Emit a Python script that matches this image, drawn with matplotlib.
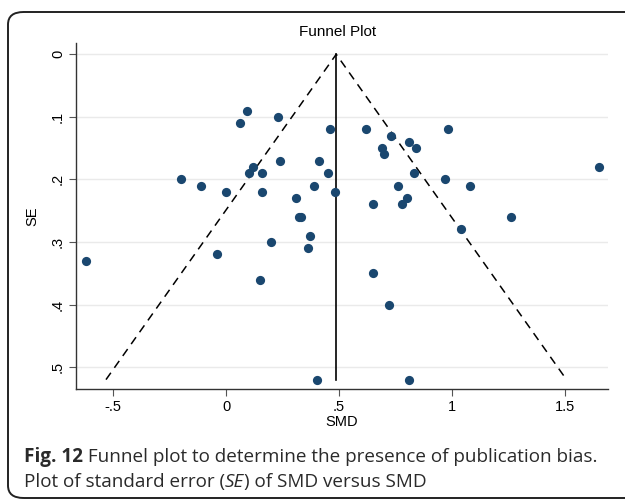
import numpy as np
import matplotlib
matplotlib.use("Agg")
import matplotlib.pyplot as plt
from matplotlib.patches import FancyBboxPatch
from matplotlib.ticker import FuncFormatter

# study effect sizes (SMD) and their standard errors
smd = [0.09, 0.06, 0.23, 0.46, 0.12, 0.10, 0.16, 0.24, 0.41, 0.45,
       0.39, 0.48, -0.20, -0.11, 0.00, 0.16, 0.31, 0.32, 0.33, 0.37,
       0.36, 0.20, -0.04, -0.62, 0.15, 0.62, 0.98, 0.73, 0.81, 0.69,
       0.84, 0.70, 0.83, 1.65, 0.97, 0.76, 1.08, 0.65, 0.78, 0.80,
       1.26, 1.04, 0.65, 0.72, 0.40, 0.81]
se = [0.09, 0.11, 0.10, 0.12, 0.18, 0.19, 0.19, 0.17, 0.17, 0.19,
      0.21, 0.22, 0.20, 0.21, 0.22, 0.22, 0.23, 0.26, 0.26, 0.29,
      0.31, 0.30, 0.32, 0.33, 0.36, 0.12, 0.12, 0.13, 0.14, 0.15,
      0.15, 0.16, 0.19, 0.18, 0.20, 0.21, 0.21, 0.24, 0.24, 0.23,
      0.26, 0.28, 0.35, 0.40, 0.52, 0.52]
pooled = 0.487
se_max = 0.52
xticks = [-0.5, 0, 0.5, 1, 1.5]
yticks = [0, 0.1, 0.2, 0.3, 0.4, 0.5]

navy = "#1a476f"
plt.rcParams['font.family'] = ['Liberation Sans', 'DejaVu Sans']

fig = plt.figure(figsize=(6.25, 5), dpi=100)

# rounded frame round the whole figure
frame = FancyBboxPatch((8 / 625, 0.004), 1.2, 0.972,
                       boxstyle="round,pad=0,rounding_size=0.025",
                       transform=fig.transFigure, fill=False,
                       edgecolor="#222222", linewidth=1.4, clip_on=False)
fig.patches.append(frame)

ax = fig.add_axes([76 / 625, 1 - 389 / 500, (608 - 76) / 625, (389 - 43) / 500])

# funnel
ax.plot([pooled - 1.96 * se_max, pooled, pooled + 1.96 * se_max],
        [se_max, 0, se_max], color="black", lw=1.1, ls=(0, (5.5, 4)))
ax.plot([pooled, pooled], [0, se_max], color="black", lw=1.2)
ax.scatter(smd, se, s=44, color=navy, zorder=3, linewidths=0)

ax.set_xlim(-0.665, 1.69)
ax.set_ylim(0.535, -0.018)
ax.set_xticks(xticks)
ax.set_yticks(yticks)

def fmt(v, pos):
    s = ("%g" % v)
    return s.replace("0.", ".")
ax.xaxis.set_major_formatter(FuncFormatter(fmt))
ax.yaxis.set_major_formatter(FuncFormatter(fmt))

for side in ["top", "right"]:
    ax.spines[side].set_visible(False)
for side in ["left", "bottom"]:
    ax.spines[side].set_color("#333333")
    ax.spines[side].set_linewidth(1.0)
ax.tick_params(length=5, width=0.8, color="#555555", labelsize=10.5, pad=3)
for lab in ax.get_yticklabels():
    lab.set_rotation(90)
    lab.set_va("center")
ax.grid(axis="y", color="#eaeaea", lw=1.0)
ax.set_axisbelow(True)
ax.set_xlabel("SMD", fontsize=10.5, labelpad=1)
ax.set_ylabel("SE", fontsize=10.5, labelpad=8)
fig.text(338 / 625, 1 - 32 / 500, "Funnel Plot", ha="center", va="center", fontsize=11)

# caption, pieces laid end to end
cap_font = ['Open Sans', 'DejaVu Sans']
cap_col = "#2a2a2a"
r = fig.canvas.get_renderer()

def put(x, y, s, **kw):
    t = fig.text(x, y, s, fontsize=13.6, color=cap_col, family=cap_font,
                 va="baseline", **kw)
    bb = t.get_window_extent(renderer=r)
    return x + bb.width / fig.bbox.width

y1 = 1 - 462 / 500
y2 = 1 - 487 / 500
x = put(24 / 625, y1, "Fig. 12", weight="bold")
put(x, y1, " Funnel plot to determine the presence of publication bias.")
x = put(24 / 625, y2, "Plot of standard error (")
x = put(x, y2, "SE", style="italic")
put(x, y2, ") of SMD versus SMD")

fig.savefig("out.png", dpi=100)
